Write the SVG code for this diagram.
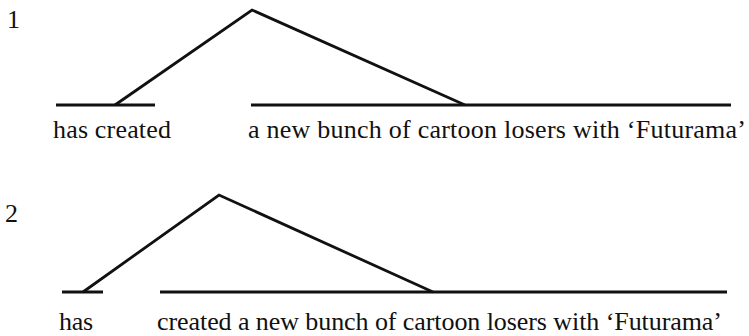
<svg xmlns="http://www.w3.org/2000/svg" width="749" height="336" viewBox="0 0 749 336">
<style>
  .ln { stroke: #111; stroke-width: 2.8; fill: none; stroke-linejoin: miter; }
  .t { font-family: 'Liberation Serif', 'DejaVu Serif', serif; font-size: 26px; fill: #111; }
</style>
<rect width="749" height="336" fill="#fff"/>
<g id="example1">
  <text class="t" x="7" y="28">1</text>
  <g id="ex1-has-created">
    <line class="ln" x1="56" y1="105" x2="155" y2="105"/>
    <text class="t" x="53" y="138" textLength="118">has created</text>
  </g>
  <g id="ex1-object">
    <line class="ln" x1="251" y1="105" x2="731" y2="105"/>
    <text class="t" x="248" y="138" textLength="498">a new bunch of cartoon losers with ‘Futurama’</text>
  </g>
</g>
<g id="example2">
  <text class="t" x="5" y="222">2</text>
  <g id="ex2-has">
    <line class="ln" x1="62" y1="292" x2="103" y2="292"/>
    <text class="t" x="59" y="330" textLength="34">has</text>
  </g>
  <g id="ex2-vp">
    <line class="ln" x1="160" y1="292" x2="727" y2="292"/>
    <text class="t" x="157" y="330" textLength="565">created a new bunch of cartoon losers with ‘Futurama’</text>
  </g>
</g>
<g id="connectors">
  <polyline class="ln" points="115,105 252,10 465,105"/>
  <polyline class="ln" points="83,292 219,195 433,292"/>
</g>
</svg>
